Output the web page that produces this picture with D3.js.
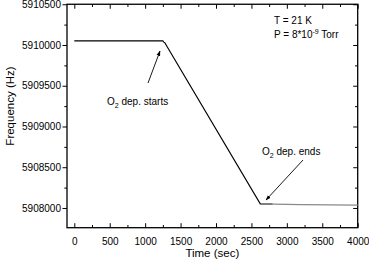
<!DOCTYPE html>
<html>
<head>
<meta charset="utf-8">
<script src="https://cdn.jsdelivr.net/npm/d3@7"></script>
<style>
  body { margin: 0; background: #fff; }
  text { font-family: "Liberation Sans", Arial, sans-serif; fill: #000; }
</style>
</head>
<body>
<script>
// data
var timeMain = [0, 1250, 1262, 1275, 2625, 2800];
var freqMain = [5910050, 5910050, 5910035, 5910030, 5908050, 5908048];
var timeTail = [2800, 3200, 3600, 4000];
var freqTail = [5908048, 5908042, 5908038, 5908036];

var xTicks = [0, 500, 1000, 1500, 2000, 2500, 3000, 3500, 4000];
var yTicks = [5908000, 5908500, 5909000, 5909500, 5910000, 5910500];

var width = 369, height = 263;
var plotL = 67, plotR = 357.7, plotT = 4.25, plotB = 227.7;

var svg = d3.select("body").append("svg")
    .attr("width", width)
    .attr("height", height);

var x = d3.scaleLinear().domain([-103, 4000]).range([plotL, plotR]);
var y = d3.scaleLinear().domain([5907758, 5910500]).range([plotB, plotT]);

var xMinor = d3.range(0, 4001, 250).filter(function(d){ return d % 500 != 0; });
var yMinor = d3.range(5907750, 5910501, 250).filter(function(d){ return d % 500 != 0 && d > 5907758; });

function noDomain(g){ g.select(".domain").remove(); }

// bottom axis, ticks inward
svg.append("g")
    .attr("transform", "translate(0," + plotB + ")")
    .call(d3.axisBottom(x).tickValues(xTicks).tickSize(-4.5).tickPadding(10).tickFormat(d3.format("d")))
    .call(function(g){
        noDomain(g);
        g.selectAll("text").attr("font-size", 10).attr("font-family", "Liberation Sans, Arial");
    });
svg.append("g")
    .attr("transform", "translate(0," + plotB + ")")
    .call(d3.axisBottom(x).tickValues(xMinor).tickSize(-2.7).tickFormat(""))
    .call(noDomain);

// top axis, ticks inward
svg.append("g")
    .attr("transform", "translate(0," + plotT + ")")
    .call(d3.axisTop(x).tickValues(xTicks).tickSize(-4.5).tickFormat(""))
    .call(noDomain);
svg.append("g")
    .attr("transform", "translate(0," + plotT + ")")
    .call(d3.axisTop(x).tickValues(xMinor).tickSize(-2.7).tickFormat(""))
    .call(noDomain);

// left axis, ticks outward
svg.append("g")
    .attr("transform", "translate(" + plotL + ",0)")
    .call(d3.axisLeft(y).tickValues(yTicks).tickSize(4.5).tickPadding(1.5).tickFormat(d3.format("d")))
    .call(function(g){
        noDomain(g);
        g.selectAll("text").attr("font-size", 10).attr("font-family", "Liberation Sans, Arial");
    });
svg.append("g")
    .attr("transform", "translate(" + plotL + ",0)")
    .call(d3.axisLeft(y).tickValues(yMinor).tickSize(2.7).tickFormat(""))
    .call(noDomain);

// right axis, ticks inward
svg.append("g")
    .attr("transform", "translate(" + plotR + ",0)")
    .call(d3.axisRight(y).tickValues(yTicks).tickSize(-4.5).tickFormat(""))
    .call(noDomain);
svg.append("g")
    .attr("transform", "translate(" + plotR + ",0)")
    .call(d3.axisRight(y).tickValues(yMinor).tickSize(-2.7).tickFormat(""))
    .call(noDomain);

// frame
svg.append("rect")
    .attr("x", plotL).attr("y", plotT)
    .attr("width", plotR - plotL).attr("height", plotB - plotT)
    .attr("fill", "none").attr("stroke", "#000").attr("stroke-width", 1.3);

// series
var line = d3.line()
    .x(function(d){ return x(d[0]); })
    .y(function(d){ return y(d[1]); });

svg.append("path")
    .datum(d3.zip(timeTail, freqTail))
    .attr("d", line)
    .attr("fill", "none").attr("stroke", "#8a8a8a").attr("stroke-width", 1.2);

svg.append("path")
    .datum(d3.zip(timeMain, freqMain))
    .attr("d", line)
    .attr("fill", "none").attr("stroke", "#000").attr("stroke-width", 1.1);

// axis titles
svg.append("text")
    .attr("x", (plotL + plotR) / 2).attr("y", 257)
    .attr("text-anchor", "middle").attr("font-size", 11.5)
    .text("Time (sec)");

svg.append("text")
    .attr("transform", "translate(14,106) rotate(-90)")
    .attr("text-anchor", "middle").attr("font-size", 11.5)
    .text("Frequency (Hz)");

// conditions
svg.append("text").attr("x", 274).attr("y", 24).attr("font-size", 10).text("T = 21 K");
var p = svg.append("text").attr("x", 274).attr("y", 38).attr("font-size", 10);
p.append("tspan").text("P = 8*10");
p.append("tspan").attr("dy", -4).attr("font-size", 7).text("-9");
p.append("tspan").attr("dy", 4).text(" Torr");

// annotations
var defs = svg.append("defs");
defs.append("marker")
    .attr("id", "head")
    .attr("viewBox", "0 0 10 10")
    .attr("refX", 9).attr("refY", 5)
    .attr("markerWidth", 6).attr("markerHeight", 6)
    .attr("orient", "auto")
  .append("path")
    .attr("d", "M0,1.5L10,5L0,8.5Z")
    .attr("fill", "#000");

function note(tx, ty, label, x1, y1, x2, y2) {
    var t = svg.append("text").attr("x", tx).attr("y", ty).attr("font-size", 10);
    t.append("tspan").text("O");
    t.append("tspan").attr("dy", 3).attr("font-size", 7).text("2");
    t.append("tspan").attr("dy", -3).text(label);
    svg.append("line")
        .attr("x1", x1).attr("y1", y1).attr("x2", x2).attr("y2", y2)
        .attr("stroke", "#000").attr("stroke-width", 0.9)
        .attr("marker-end", "url(#head)");
}

note(107, 105, " dep. starts", 148, 83, 160, 51);
note(262, 155, " dep. ends", 303, 160, 266, 200);
</script>
</body>
</html>
